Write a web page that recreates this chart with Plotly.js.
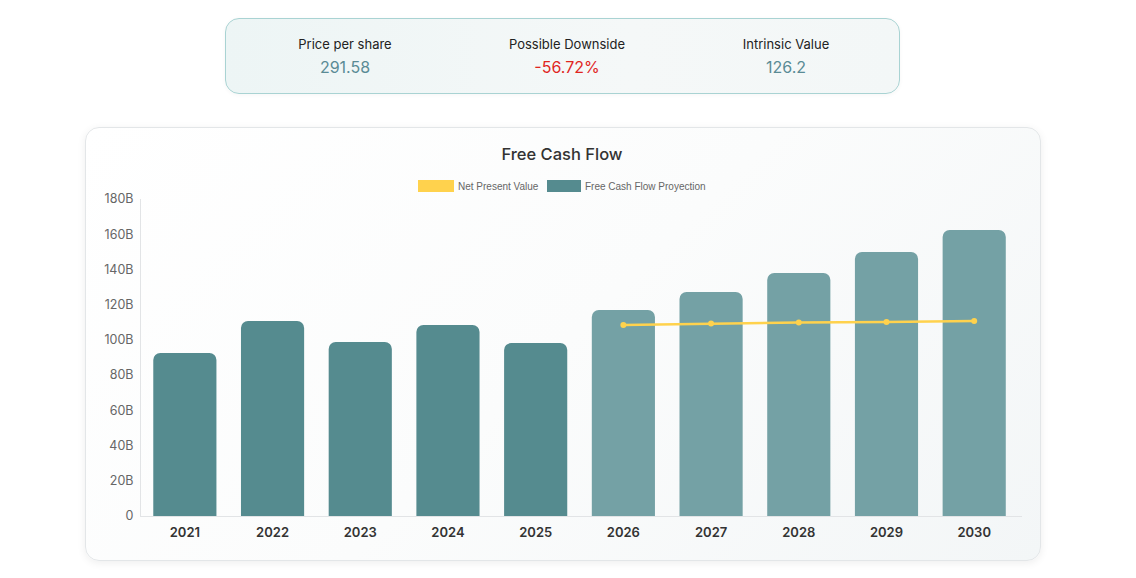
<!DOCTYPE html>
<html>
<head>
<meta charset="utf-8">
<script src="https://cdn.plot.ly/plotly-3.0.1.min.js"></script>
<style>
  html, body { margin: 0; padding: 0; width: 1136px; height: 578px; background: #ffffff; overflow: hidden; font-family: Inter, "Noto Sans", sans-serif; }
  .kpi { position: absolute; left: 225px; top: 18px; width: 673px; height: 74px; border: 1px solid #a9d3d3; border-radius: 14px; background: linear-gradient(90deg, #edf5f5 0%, #f5f8f8 60%, #f3f7f7 100%); box-shadow: 0 1px 4px rgba(0,0,0,0.04); }
  .kpi .item { position: absolute; top: 0; width: 220px; text-align: center; }
  .kpi .label { position: absolute; top: 17px; width: 100%; font-size: 13px; color: #222; }
  .kpi .value { position: absolute; top: 38px; width: 100%; font-size: 16px; color: #5a8b95; }
  .kpi .value.neg { color: #e0261f; }
  .card { position: absolute; left: 85px; top: 127px; width: 954px; height: 432px; border: 1px solid #e3e6e8; border-radius: 14px; background: linear-gradient(135deg, #ffffff 0%, #fbfcfc 50%, #f3f6f7 100%); box-shadow: 0 2px 8px rgba(0,0,0,0.07); }
  #chart { position: absolute; left: 0; top: 0; width: 1136px; height: 578px; }
</style>
</head>
<body>
<div class="kpi">
  <div class="item" style="left:9px"><div class="label">Price per share</div><div class="value" id="v-price"></div></div>
  <div class="item" style="left:231px"><div class="label">Possible Downside</div><div class="value neg" id="v-down"></div></div>
  <div class="item" style="left:450px"><div class="label">Intrinsic Value</div><div class="value" id="v-intr"></div></div>
</div>
<div class="card"></div>
<div id="chart"></div>
<script>
// Valuation summary
const pricePerShare = 291.58;
const possibleDownside = -56.72;
const intrinsicValue = 126.2;

// Free cash flow by year (billions); 2026 onward is projected
const years = ['2021', '2022', '2023', '2024', '2025', '2026', '2027', '2028', '2029', '2030'];
const freeCashFlow = [92.6, 110.7, 98.8, 108.5, 98.2, 117.0, 127.2, 138.0, 149.9, 162.4];
const isProjected = [false, false, false, false, false, true, true, true, true, true];

// Net present value of the projected years (billions)
const npvYears = ['2026', '2027', '2028', '2029', '2030'];
const netPresentValue = [108.5, 109.3, 109.9, 110.2, 110.7];

// Axis ticks
const yTickValues = [0, 20, 40, 60, 80, 100, 120, 140, 160, 180];
const yTickLabels = ['0', '20B', '40B', '60B', '80B', '100B', '120B', '140B', '160B', '180B'];

// Legend entries
const legendNames = ['Net Present Value', 'Free Cash Flow Proyection'];

document.getElementById('v-price').textContent = pricePerShare.toFixed(2);
document.getElementById('v-down').textContent = possibleDownside.toFixed(2) + '%';
document.getElementById('v-intr').textContent = String(intrinsicValue);

const histColor = '#558b8f';
const projColor = '#74a1a5';
const npvColor = '#ffd24d';

const barTrace = {
  type: 'bar',
  x: years,
  y: freeCashFlow,
  marker: { color: isProjected.map(p => p ? projColor : histColor) },
  width: 0.72,
  hoverinfo: 'x+y',
  showlegend: false
};

const npvTrace = {
  type: 'scatter',
  mode: 'lines+markers',
  x: npvYears,
  y: netPresentValue,
  line: { color: npvColor, width: 2.5 },
  marker: { color: npvColor, size: 6 },
  showlegend: false
};

// Plot area in page pixels, used to place the legend
const plotLeft = 141, plotRight = 1022, plotTop = 199, plotBottom = 516;
const px = v => (v - plotLeft) / (plotRight - plotLeft);
const py = v => (plotBottom - v) / (plotBottom - plotTop);

// Custom legend: colored boxes and labels
const legendShapes = [
  { type: 'rect', xref: 'paper', yref: 'paper', x0: px(418), x1: px(454), y0: py(192), y1: py(180), fillcolor: npvColor, line: { width: 0 } },
  { type: 'rect', xref: 'paper', yref: 'paper', x0: px(547), x1: px(581), y0: py(192), y1: py(180), fillcolor: histColor, line: { width: 0 } }
];
const legendFont = { family: 'Liberation Sans, Arial, sans-serif', size: 10, color: '#666' };
const legendAnnotations = [
  { xref: 'paper', yref: 'paper', x: px(456), y: py(186), xanchor: 'left', yanchor: 'middle', text: legendNames[0], showarrow: false, font: legendFont },
  { xref: 'paper', yref: 'paper', x: px(583), y: py(186), xanchor: 'left', yanchor: 'middle', text: legendNames[1], showarrow: false, font: legendFont }
];

const layout = {
  width: 1136,
  height: 578,
  margin: { l: plotLeft, r: 1136 - plotRight, t: plotTop, b: 578 - plotBottom },
  paper_bgcolor: 'rgba(0,0,0,0)',
  plot_bgcolor: 'rgba(0,0,0,0)',
  barcornerradius: 7,
  showlegend: false,
  font: { family: 'Inter, sans-serif' },
  title: {
    text: 'Free Cash Flow',
    x: 562/1136, xanchor: 'center',
    xref: 'container', yref: 'container',
    y: 1 - 154/578, yanchor: 'middle',
    font: { family: 'Inter, sans-serif', size: 16.5, color: '#333', weight: 500 }
  },
  xaxis: {
    type: 'category',
    showgrid: false,
    zeroline: false,
    showline: true,
    linecolor: '#e2e4e6',
    linewidth: 1,
    ticks: '',
    tickfont: { family: 'Inter, sans-serif', size: 13, color: '#333', weight: 600 },
    ticklabelstandoff: 4
  },
  yaxis: {
    range: [0, 180],
    tickvals: yTickValues,
    ticktext: yTickLabels,
    showgrid: false,
    zeroline: false,
    showline: true,
    linecolor: '#e2e4e6',
    linewidth: 1,
    ticks: '',
    tickfont: { family: 'Inter, sans-serif', size: 12.5, color: '#666' },
    ticklabelstandoff: 4
  },
  shapes: legendShapes,
  annotations: legendAnnotations
};

Plotly.newPlot('chart', [barTrace, npvTrace], layout, { displayModeBar: false, staticPlot: true });
</script>
</body>
</html>
